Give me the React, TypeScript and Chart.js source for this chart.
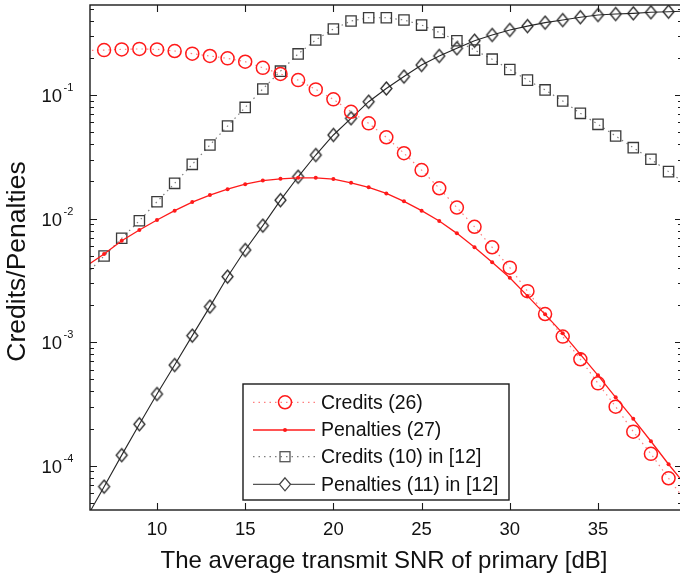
import React, { useEffect, useRef } from 'react';
import { Chart, registerables } from 'chart.js';

Chart.register(...registerables);

// ---------- data ----------
const snr = [6, 7, 8, 9, 10, 11, 12, 13, 14, 15, 16, 17, 18, 19, 20, 21, 22, 23, 24, 25, 26, 27, 28, 29, 30, 31, 32, 33, 34, 35, 36, 37, 38, 39, 40];

const credits26 = [0.229, 0.231, 0.234, 0.236, 0.234, 0.227, 0.216, 0.207, 0.198, 0.186, 0.166, 0.148, 0.132, 0.111, 0.0923, 0.0732, 0.059, 0.0455, 0.0338, 0.0247, 0.0176, 0.0123, 0.00859, 0.00586, 0.00401, 0.00259, 0.00169, 0.00111, 0.000728, 0.000465, 0.000301, 0.000189, 0.000125, 0.0000793, 0.000051];

const penalties27 = [0.00414, 0.00518, 0.00662, 0.00809, 0.00975, 0.0116, 0.0136, 0.0155, 0.0173, 0.019, 0.0203, 0.021, 0.0214, 0.0214, 0.0209, 0.0195, 0.0179, 0.016, 0.0138, 0.0116, 0.00957, 0.0076, 0.00586, 0.00443, 0.00332, 0.00237, 0.00168, 0.00118, 0.000798, 0.00054, 0.000358, 0.00024, 0.000158, 0.000103, 0.0000687];

const credits10 = [0.00358, 0.00498, 0.00693, 0.00962, 0.0137, 0.0193, 0.0275, 0.0394, 0.0561, 0.0794, 0.112, 0.156, 0.215, 0.279, 0.342, 0.397, 0.422, 0.422, 0.405, 0.368, 0.321, 0.275, 0.231, 0.195, 0.161, 0.132, 0.11, 0.0894, 0.0711, 0.0579, 0.0466, 0.0375, 0.0302, 0.024, 0.019];

const penalties11 = [0.0000378, 0.0000678, 0.000122, 0.000217, 0.000381, 0.000654, 0.00113, 0.00194, 0.00339, 0.00557, 0.00877, 0.0141, 0.0218, 0.0327, 0.0475, 0.0648, 0.0883, 0.113, 0.141, 0.175, 0.207, 0.239, 0.275, 0.306, 0.336, 0.361, 0.385, 0.404, 0.426, 0.444, 0.452, 0.458, 0.467, 0.472, 0.478];

const seriesLabels = ['Credits (26)', 'Penalties (27)', 'Credits (10) in [12]', 'Penalties (11) in [12]'];
const xTickValues = [10, 15, 20, 25, 30, 35];
const yDecadeExponents = [-4, -3, -2, -1];
const xTitle = 'The average transmit SNR of primary [dB]';
const yTitle = 'Credits/Penalties';

const X_MIN = 6.202;
const X_MAX = 39.762;
const Y_MIN = 4.39e-5;
const Y_MAX = 0.535;

const FONT = '"Liberation Sans", Arial, Helvetica, sans-serif';
const RED = '#ff1a1a';
const RED_DOT = 'rgba(255,40,40,0.6)';
const GRAY = '#3a3a3a';
const GRAY_DOT = 'rgba(70,70,70,0.7)';
const DARK = '#262626';

function makeDiamond(hw: number, hh: number, lw: number, color: string) {
  const c = document.createElement('canvas');
  const w = Math.ceil(2 * hw + lw + 2);
  const h = Math.ceil(2 * hh + lw + 2);
  c.width = w;
  c.height = h;
  const g = c.getContext('2d')!;
  const cx = w / 2;
  const cy = h / 2;
  g.strokeStyle = color;
  g.lineWidth = lw;
  g.beginPath();
  g.moveTo(cx, cy - hh);
  g.lineTo(cx + hw, cy);
  g.lineTo(cx, cy + hh);
  g.lineTo(cx - hw, cy);
  g.closePath();
  g.stroke();
  return c;
}

const visibleRadius = (r: number) => (ctx: any) => {
  const x = snr[ctx.dataIndex];
  return x >= 7 && x <= 39 ? r : 0;
};

const axesPlugin = {
  id: 'matlabAxes',
  afterDatasetsDraw(chart: any) {
    const { ctx, chartArea } = chart;
    const xs = chart.scales.x;
    const ys = chart.scales.y;
    const { left, right, top, bottom } = chartArea;
    ctx.save();
    ctx.strokeStyle = '#1a1a1a';
    ctx.lineWidth = 1.4;
    ctx.strokeRect(left, top, right - left, bottom - top);

    // x ticks (inward, bottom & top)
    ctx.lineWidth = 1.1;
    ctx.beginPath();
    for (const v of xTickValues) {
      const px = Math.round(xs.getPixelForValue(v)) + 0.5;
      ctx.moveTo(px, bottom);
      ctx.lineTo(px, bottom - 7);
      ctx.moveTo(px, top);
      ctx.lineTo(px, top + 7);
    }
    // y ticks (major + minor, inward, left & right)
    for (let d = -5; d <= 0; d++) {
      for (let k = 1; k <= 9; k++) {
        const v = k * Math.pow(10, d);
        if (v < Y_MIN || v > Y_MAX) continue;
        const py = Math.round(ys.getPixelForValue(v)) + 0.5;
        const len = k === 1 ? 7 : 4;
        ctx.moveTo(left, py);
        ctx.lineTo(left + len, py);
        ctx.moveTo(right, py);
        ctx.lineTo(right - len, py);
      }
    }
    ctx.stroke();

    // x tick labels
    ctx.fillStyle = '#111';
    ctx.font = `18.5px ${FONT}`;
    ctx.textAlign = 'center';
    ctx.textBaseline = 'alphabetic';
    for (const v of xTickValues) {
      ctx.fillText(String(v), xs.getPixelForValue(v), 535);
    }
    // y tick labels with superscript exponent
    for (const e of yDecadeExponents) {
      const py = ys.getPixelForValue(Math.pow(10, e));
      ctx.font = `18.5px ${FONT}`;
      ctx.textAlign = 'right';
      ctx.fillText('10', 62, py + 7);
      ctx.font = `11px ${FONT}`;
      ctx.textAlign = 'left';
      ctx.fillText(String(e), 63.5, py - 4);
    }
    // axis titles
    ctx.font = `24px ${FONT}`;
    ctx.textAlign = 'center';
    ctx.fillText(xTitle, (left + right) / 2 - 2, 568);
    ctx.save();
    ctx.translate(25, 261.5);
    ctx.rotate(-Math.PI / 2);
    ctx.font = `26.5px ${FONT}`;
    ctx.fillText(yTitle, 0, 0);
    ctx.restore();

    // legend
    const bx = 243, by = 384, bw = 266, bh = 116;
    ctx.fillStyle = '#fff';
    ctx.fillRect(bx, by, bw, bh);
    ctx.strokeStyle = '#1a1a1a';
    ctx.lineWidth = 1.4;
    ctx.strokeRect(bx, by, bw, bh);
    const rows = [402.3, 430, 456.7, 484.3];
    const diamond = chart.$legendDiamond;
    for (let i = 0; i < 4; i++) {
      const y = rows[i];
      ctx.save();
      ctx.beginPath();
      if (i === 0) { ctx.strokeStyle = RED_DOT; ctx.setLineDash([1.5, 4]); ctx.lineWidth = 1.2; }
      if (i === 1) { ctx.strokeStyle = RED; ctx.lineWidth = 1.3; }
      if (i === 2) { ctx.strokeStyle = GRAY_DOT; ctx.setLineDash([1.5, 4]); ctx.lineWidth = 1.2; }
      if (i === 3) { ctx.strokeStyle = '#555'; ctx.lineWidth = 1.3; }
      ctx.moveTo(253, y);
      ctx.lineTo(315, y);
      ctx.stroke();
      ctx.restore();
      const mx = 285;
      ctx.save();
      if (i === 0) {
        ctx.strokeStyle = RED; ctx.lineWidth = 1.5;
        ctx.beginPath(); ctx.arc(mx, y, 6.5, 0, Math.PI * 2); ctx.stroke();
      } else if (i === 1) {
        ctx.fillStyle = RED;
        ctx.beginPath(); ctx.arc(mx, y, 2, 0, Math.PI * 2); ctx.fill();
      } else if (i === 2) {
        ctx.strokeStyle = '#555'; ctx.lineWidth = 1.3;
        ctx.strokeRect(mx - 5, y - 5, 10, 10);
      } else if (diamond) {
        ctx.fillStyle = '#fff';
        ctx.beginPath();
        ctx.moveTo(mx, y - 6.5); ctx.lineTo(mx + 5.5, y); ctx.lineTo(mx, y + 6.5); ctx.lineTo(mx - 5.5, y); ctx.closePath();
        ctx.fill();
        ctx.strokeStyle = '#444'; ctx.lineWidth = 1.3; ctx.stroke();
      }
      ctx.restore();
      ctx.fillStyle = '#111';
      ctx.font = `19.5px ${FONT}`;
      ctx.textAlign = 'left';
      ctx.textBaseline = 'middle';
      ctx.fillText(seriesLabels[i], 321, y + 1);
    }
    ctx.restore();
  },
};

export default function App() {
  const ref = useRef<HTMLCanvasElement | null>(null);

  useEffect(() => {
    if (!ref.current) return;
    const diamond = makeDiamond(5.5, 6.5, 1.3, DARK);
    const toXY = (arr: number[]) => snr.map((x, i) => ({ x, y: arr[i] }));
    const chart = new Chart(ref.current, {
      type: 'line',
      data: {
        datasets: [
          {
            label: seriesLabels[0],
            data: toXY(credits26),
            borderColor: RED_DOT,
            borderWidth: 1.2,
            borderDash: [1.5, 4],
            pointStyle: 'circle',
            pointRadius: visibleRadius(6.5),
            pointBorderColor: RED,
            pointBorderWidth: 1.5,
            pointBackgroundColor: 'rgba(0,0,0,0)',
            tension: 0,
            fill: false,
          },
          {
            label: seriesLabels[1],
            data: toXY(penalties27),
            borderColor: RED,
            borderWidth: 1.3,
            pointStyle: 'circle',
            pointRadius: visibleRadius(2),
            pointBorderWidth: 0,
            pointBackgroundColor: RED,
            tension: 0,
            fill: false,
          },
          {
            label: seriesLabels[2],
            data: toXY(credits10),
            borderColor: GRAY_DOT,
            borderWidth: 1.2,
            borderDash: [1.5, 4],
            pointStyle: 'rect',
            pointRadius: visibleRadius(7.3),
            pointBorderColor: GRAY,
            pointBorderWidth: 1.3,
            pointBackgroundColor: 'rgba(0,0,0,0)',
            tension: 0,
            fill: false,
          },
          {
            label: seriesLabels[3],
            data: toXY(penalties11),
            borderColor: DARK,
            borderWidth: 1.1,
            pointStyle: diamond as any,
            pointRadius: visibleRadius(6),
            tension: 0,
            fill: false,
          },
        ],
      },
      options: {
        animation: false,
        responsive: false,
        devicePixelRatio: 1,
        layout: { padding: { left: 90, top: 5, right: 2, bottom: 68 } },
        plugins: { legend: { display: false }, tooltip: { enabled: false } },
        scales: {
          x: { type: 'linear', min: X_MIN, max: X_MAX, display: false },
          y: { type: 'logarithmic', min: Y_MIN, max: Y_MAX, display: false },
        },
      },
      plugins: [axesPlugin],
    } as any);
    (chart as any).$legendDiamond = diamond;
    chart.draw();
    return () => chart.destroy();
  }, []);

  return (
    <div style={{ position: 'absolute', left: 0, top: 0, width: 680, height: 578, overflow: 'hidden', background: '#fff' }}>
      <canvas ref={ref} width={684} height={578} style={{ display: 'block' }} />
    </div>
  );
}
